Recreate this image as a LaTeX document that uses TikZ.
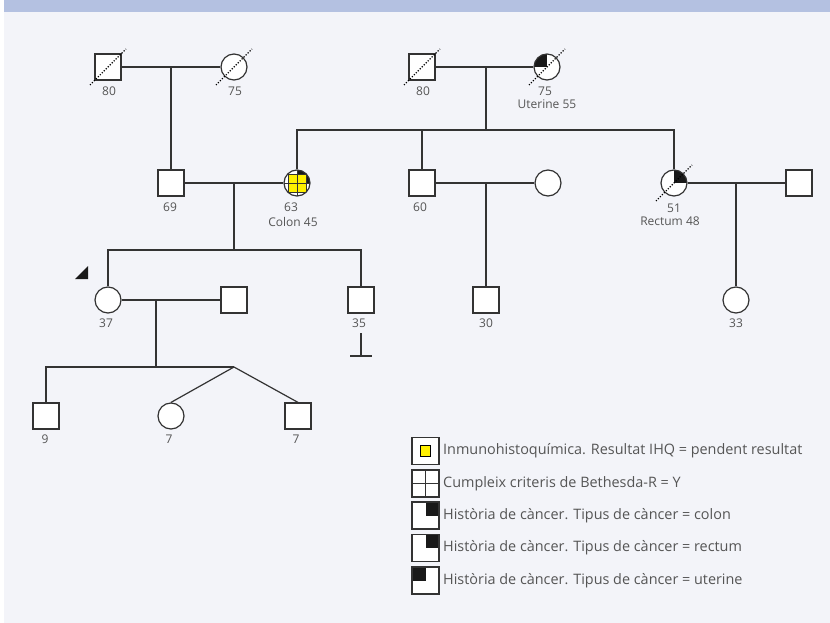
\documentclass[tikz,border=0pt]{standalone}
\usepackage{fontspec}
\setmainfont{Open Sans}
\definecolor{bg}{HTML}{F3F4F9}
\definecolor{hdr}{HTML}{B4C1E1}
\definecolor{lc}{HTML}{333333}
\definecolor{tc}{HTML}{555555}
\definecolor{ihq}{HTML}{FFF000}
\tikzset{
  sym/.style={draw=lc, line width=1.2pt, fill=white, inner sep=0pt, minimum size=26pt},
  male/.style={sym, rectangle},
  female/.style={sym, circle},
  ln/.style={draw=lc, line width=1.2pt},
  lbl/.style={text=tc, font=\fontsize{12}{14}\selectfont, inner sep=0pt},
  legtxt/.style={text=tc, font=\fontsize{14.4}{16}\selectfont, inner sep=0pt, anchor=west},
  dec/.style={draw=black, line width=1.1pt, dash pattern=on 1.2pt off 1.6pt},
  qtrTR/.style={path picture={\fill[black!90] (path picture bounding box.center) rectangle (path picture bounding box.north east);}},
  qtrTL/.style={path picture={\fill[black!90] (path picture bounding box.center) rectangle (path picture bounding box.north west);}},
  legbox/.style={draw=lc, line width=1.3pt, fill=white, inner sep=0pt, minimum size=27pt, rectangle},
}
\begin{document}
\begin{tikzpicture}[x=1pt,y=-1pt]
\useasboundingbox (0,0) rectangle (830,623);
\fill[white] (0,0) rectangle (830,623);
\fill[bg] (4,12) rectangle (830,623);
\fill[hdr] (4,0) rectangle (830,12);

% ---------- Generation I ----------
\node[male] (m80a) at (108,67) {};
\node[female] (f75a) at (234,67) {};
\node[male] (m80b) at (422,67) {};
\node[female, qtrTL] (f75b) at (547,67) {};
\node[lbl] (l80a) at (109,91) {80};
\node[lbl] (l75a) at (235,91) {75};
\node[lbl] (l80b) at (423,91) {80};
\node[lbl] (l75b) at (545,91) {75};
\node[lbl] (lut) at (547,104.5) {Uterine 55};

% ---------- Generation II ----------
\node[male] (m69) at (171,183) {};
\node[female, path picture={
   \fill[black!90] (path picture bounding box.center) rectangle (path picture bounding box.north east);
   \filldraw[fill=ihq, draw=lc, line width=0.6pt] ([xshift=-9pt,yshift=-9pt]path picture bounding box.center) rectangle ([xshift=9pt,yshift=9pt]path picture bounding box.center);
   \draw[lc, line width=0.8pt] (path picture bounding box.north) -- (path picture bounding box.south);
   \draw[lc, line width=0.8pt] (path picture bounding box.west) -- (path picture bounding box.east);
 }] (f63) at (297,183) {};
\node[male] (m60) at (422,183) {};
\node[female] (f60w) at (548,183) {};
\node[female, qtrTR] (f51) at (674,183) {};
\node[male] (m51h) at (799,183) {};
\node[lbl] (l69) at (170,207) {69};
\node[lbl] (l63) at (291,207) {63};
\node[lbl] (lcol) at (293,221.5) {Colon 45};
\node[lbl] (l60) at (420,207) {60};
\node[lbl] (l51) at (674,208) {51};
\node[lbl] (lrec) at (670,221.5) {Rectum 48};

% ---------- Generation III ----------
\node[female] (f37) at (108,300) {};
\node[male] (m37h) at (234,300) {};
\node[male] (m35) at (361,300) {};
\node[male] (m30) at (486,300) {};
\node[female] (f33) at (736,300) {};
\node[lbl] (l37) at (106,323) {37};
\node[lbl] (l35) at (359,323) {35};
\node[lbl] (l30) at (486,323) {30};
\node[lbl] (l33) at (736,323) {33};

% ---------- Generation IV ----------
\node[male] (m9) at (46,416) {};
\node[female] (f7) at (171,416) {};
\node[male] (m7) at (298,416) {};
\node[lbl] (l9) at (45,439) {9};
\node[lbl] (l7a) at (169,439) {7};
\node[lbl] (l7b) at (296,439) {7};

% ---------- coordinates ----------
\coordinate (c1) at (171,67);
\coordinate (c2) at (486,67);
\coordinate (s2) at (486,130);
\coordinate (s2l) at (297,130);
\coordinate (s2m) at (422,130);
\coordinate (s2r) at (674,130);
\coordinate (c3) at (234,183);
\coordinate (s3) at (234,250);
\coordinate (s3l) at (108,250);
\coordinate (s3r) at (361,250);
\coordinate (c4) at (486,183);
\coordinate (c5) at (736,183);
\coordinate (c6) at (156,300);
\coordinate (s6) at (156,367);
\coordinate (s6l) at (46,367);
\coordinate (tw) at (234,367);
\coordinate (n1) at (361,333);
\coordinate (n2) at (361,356);
\coordinate (n2l) at (350,356);
\coordinate (n2r) at (372,356);

% ---------- connectors ----------
\draw[ln] (m80a) -- (f75a);
\draw[ln] (c1) -- (m69);
\draw[ln] (m80b) -- (f75b);
\draw[ln] (c2) -- (s2);
\draw[ln] (f63) -- (s2l) -- (s2r) -- (f51);
\draw[ln] (s2m) -- (m60);
\draw[ln] (m69) -- (f63);
\draw[ln] (c3) -- (s3);
\draw[ln] (f37) -- (s3l) -- (s3r) -- (m35);
\draw[ln] (m60) -- (f60w);
\draw[ln] (c4) -- (m30);
\draw[ln] (f51) -- (m51h);
\draw[ln] (c5) -- (f33);
\draw[ln] (f37) -- (m37h);
\draw[ln] (c6) -- (s6);
\draw[ln] (m9) -- (s6l) -- (tw);
\draw[ln] (tw) -- (f7.north);
\draw[ln] (tw) -- (m7.north);
\draw[ln] (n1) -- (n2);
\draw[ln] (n2l) -- (n2r);

% proband arrow
\fill[black!90] (75,279) -- (88,266) -- (88,279) -- cycle;

% ---------- deceased slashes ----------
\foreach \n in {m80a,f75a,m80b,f75b,f51}
  \draw[dec] ([shift={(-18,18)}]\n.center) -- ([shift={(18,-18)}]\n.center);

% ---------- legend ----------
\node[legbox, path picture={
   \filldraw[fill=ihq, draw=black, line width=0.8pt] ([xshift=-5pt,yshift=-5.5pt]path picture bounding box.center) rectangle ([xshift=5pt,yshift=5.5pt]path picture bounding box.center);
 }] (lg1) at (425.5,451) {};
\node[legbox, path picture={
   \draw[lc, line width=0.9pt] (path picture bounding box.north) -- (path picture bounding box.south);
   \draw[lc, line width=0.9pt] (path picture bounding box.west) -- (path picture bounding box.east);
 }] (lg2) at (425.5,483.5) {};
\node[legbox, qtrTR] (lg3) at (425.5,515.5) {};
\node[legbox, qtrTR] (lg4) at (425.5,548) {};
\node[legbox, qtrTL] (lg5) at (425.5,580.5) {};
\node[legtxt] (lt1) at (443,451) {Inmunohistoquímica. Resultat IHQ = pendent resultat};
\node[legtxt] (lt2) at (443,483.5) {Cumpleix criteris de Bethesda-R = Y};
\node[legtxt] (lt3) at (443,515.5) {Història de càncer. Tipus de càncer = colon};
\node[legtxt] (lt4) at (443,548) {Història de càncer. Tipus de càncer = rectum};
\node[legtxt] (lt5) at (443,580.5) {Història de càncer. Tipus de càncer = uterine};
\end{tikzpicture}
\end{document}
